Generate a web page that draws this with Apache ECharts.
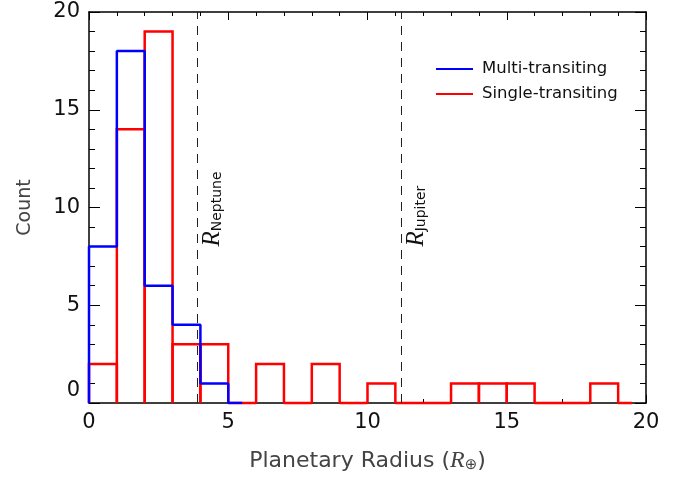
<!DOCTYPE html>
<html>
<head>
<meta charset="utf-8">
<script src="https://cdn.jsdelivr.net/npm/echarts@6/dist/echarts.min.js"></script>
<style>
  html, body { margin: 0; padding: 0; background: #fff; }
  #main { width: 692px; height: 478px; }
</style>
</head>
<body>
<div id="main"></div>
<script>
// bin edges and counts
var multiEdges = [0, 1, 2, 3, 4, 5, 5.5];
var multiCounts = [8, 18, 6, 4, 1, 0];
var singleEdges = [0, 1, 2, 3, 4, 5, 6, 7, 8, 9, 10, 11, 12, 13, 14, 15, 16, 17, 18, 19, 19.5];
var singleCounts = [2, 14, 19, 3, 3, 0, 2, 0, 2, 0, 1, 0, 0, 1, 1, 1, 0, 0, 1, 0];
var refNames = ['Neptune', 'Jupiter'];
var refRadii = [3.88, 11.21];

var font = 'DejaVu Sans';

// step line for multi-transiting
var multiSteps = [[multiEdges[0], 0]];
for (var i = 0; i < multiCounts.length; i++) {
	multiSteps.push([multiEdges[i], multiCounts[i]]);
	multiSteps.push([multiEdges[i + 1], multiCounts[i]]);
}

// one outlined box per bin for single-transiting
var singleBins = [];
for (var j = 0; j < singleCounts.length; j++) {
	singleBins.push([singleEdges[j], singleEdges[j + 1], singleCounts[j]]);
}

var myChart = echarts.init(document.getElementById('main'));

var axisBase = {
	type: 'value',
	min: 0,
	max: 20,
	interval: 5,
	axisLine: { show: true, onZero: false, lineStyle: { color: '#000', width: 1.5 } },
	splitLine: { show: false },
	axisTick: { show: true, inside: true, length: 8, lineStyle: { color: '#000', width: 1 } },
	minorTick: { show: true, splitNumber: 5, length: 4, lineStyle: { color: '#000', width: 1 } }
};

var option = {
	animation: false,
	backgroundColor: '#fff',
	grid: { left: 89, right: 46, top: 12, bottom: 73, containLabel: false },
	legend: {
		orient: 'vertical',
		left: 431,
		top: 54,
		itemWidth: 37,
		itemHeight: 2,
		itemGap: 5,
		textStyle: { fontFamily: font, fontSize: 16.5, color: '#111', lineHeight: 20, padding: [0, 0, 0, 4] },
		data: [
			{ name: 'Multi-transiting', icon: 'rect' },
			{ name: 'Single-transiting', icon: 'rect' }
		]
	},
	xAxis: [
		echarts.util.merge({
			position: 'bottom',
			name: 'Planetary Radius ({i|R}{sub|⊕})',
			nameLocation: 'middle',
			nameGap: 46,
			nameTextStyle: {
				fontFamily: font, fontSize: 22, color: '#444',
				rich: {
					i: { fontFamily: 'Liberation Serif', fontStyle: 'italic', fontSize: 24, color: '#444' },
					sub: { fontFamily: font, fontSize: 15, color: '#444', padding: [9, 0, 0, 0] }
				}
			},
			axisLabel: { fontFamily: font, fontSize: 21, color: '#111', margin: 9 }
		}, axisBase),
		echarts.util.merge({ position: 'top', axisLabel: { show: false } }, axisBase)
	],
	yAxis: [
		echarts.util.merge({
			position: 'left',
			name: 'Count',
			nameLocation: 'middle',
			nameGap: 54,
			nameTextStyle: { fontFamily: font, fontSize: 19, color: '#444' },
			axisTick: { length: 11 },
			minorTick: { length: 6 },
			axisLabel: {
				fontFamily: font, fontSize: 21, color: '#111', margin: 9,
				formatter: function (v) { return v === 0 ? '{z|0}' : String(v); },
				rich: { z: { fontFamily: font, fontSize: 21, color: '#111', padding: [0, 0, 24, 0] } }
			}
		}, axisBase, false),
		echarts.util.merge({ position: 'right', axisLabel: { show: false }, axisTick: { length: 11 }, minorTick: { length: 6 } }, axisBase, false)
	],
	series: [
		{
			name: 'Single-transiting',
			type: 'custom',
			xAxisIndex: 0,
			yAxisIndex: 0,
			z: 2,
			itemStyle: { color: '#ff0000' },
			renderItem: function (params, api) {
				var x0 = api.value(0), x1 = api.value(1), v = api.value(2);
				return {
					type: 'polyline',
					shape: { points: [api.coord([x0, 0]), api.coord([x0, v]), api.coord([x1, v]), api.coord([x1, 0])] },
					style: { stroke: '#ff0000', fill: null, lineWidth: 2.5 }
				};
			},
			data: singleBins
		},
		{
			name: 'Multi-transiting',
			type: 'line',
			xAxisIndex: 0,
			yAxisIndex: 0,
			z: 3,
			color: '#0000ff',
			showSymbol: false,
			lineStyle: { color: '#0000ff', width: 2.5 },
			data: multiSteps,
			markLine: {
				silent: true,
				symbol: 'none',
				label: { show: false },
				lineStyle: { color: '#222', width: 1, type: [9, 7] },
				data: refRadii.map(function (r) { return { xAxis: r }; })
			}
		}
	]
};
myChart.setOption(option);

// rotated R_Neptune / R_Jupiter labels next to the dashed lines
var labels = refRadii.map(function (r, k) {
	var p = myChart.convertToPixel({ xAxisIndex: 0, yAxisIndex: 0 }, [r, 8]);
	return {
		type: 'text',
		x: p[0] + 15,
		y: p[1],
		rotation: Math.PI / 2,
		z: 10,
		style: {
			text: '{r|R}{s|' + refNames[k] + '}',
			align: 'left',
			verticalAlign: 'middle',
			rich: {
				r: { fontFamily: 'Liberation Serif', fontStyle: 'italic', fontSize: 25, fill: '#111' },
				s: { fontFamily: font, fontSize: 14, fill: '#111', padding: [10, 0, 0, 0] }
			}
		}
	};
});
myChart.setOption({ graphic: labels });
</script>
</body>
</html>
